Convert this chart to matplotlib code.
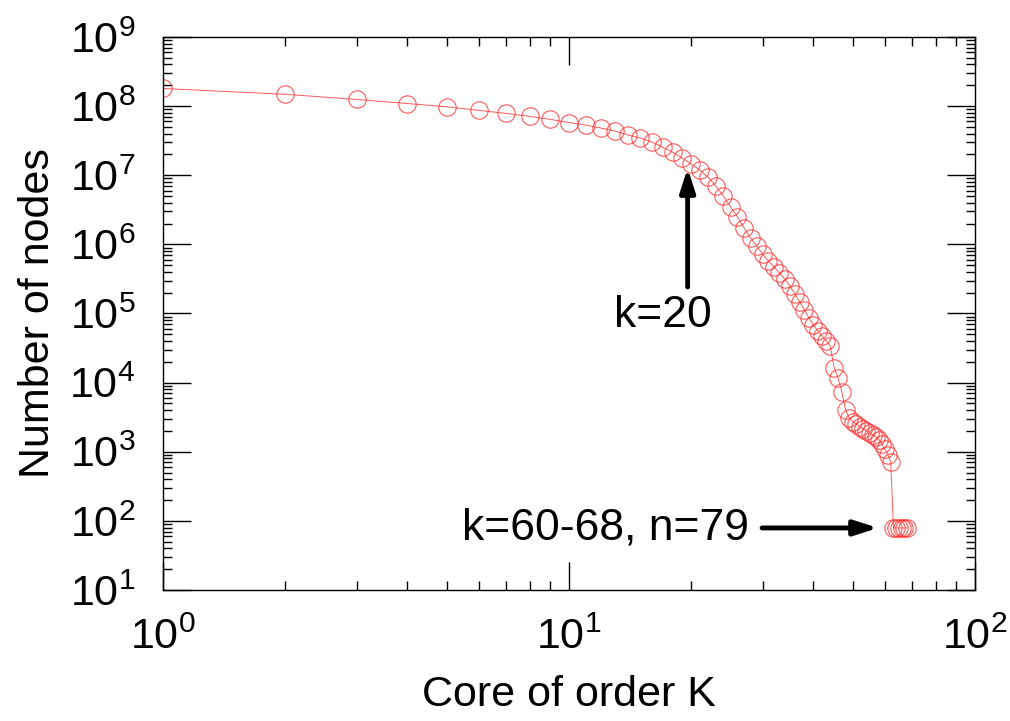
import math
import matplotlib
matplotlib.use("Agg")
import matplotlib.pyplot as plt
from matplotlib.ticker import LogLocator, FuncFormatter, NullFormatter

plt.rcParams['font.family'] = ['Liberation Sans', 'DejaVu Sans']
plt.rcParams['mathtext.fontset'] = 'custom'
plt.rcParams['mathtext.rm'] = 'Liberation Sans'
plt.rcParams['mathtext.it'] = 'Liberation Sans'

# data
core_k = list(range(1, 69))
num_nodes = [
    1.80e8, 1.48e8, 1.25e8, 1.09e8, 9.77e7, 8.67e7, 7.84e7, 7.10e7, 6.42e7, 5.78e7,
    5.31e7, 4.81e7, 4.35e7, 3.81e7, 3.45e7, 3.02e7, 2.56e7, 2.16e7, 1.77e7, 1.45e7,
    1.19e7, 9.42e6, 6.98e6, 5.01e6, 3.47e6, 2.49e6, 1.73e6, 1.24e6, 9.48e5, 7.27e5,
    5.76e5, 4.71e5, 3.86e5, 3.16e5, 2.51e5, 1.92e5, 1.47e5, 1.13e5, 8.64e4, 6.84e4,
    5.61e4, 4.75e4, 4.02e4, 3.40e4, 1.64e4, 1.17e4, 7.36e3, 4.05e3, 3.10e3, 2.71e3,
    2.54e3, 2.30e3, 2.15e3, 2.01e3, 1.88e3, 1.76e3, 1.65e3, 1.49e3, 1.30e3, 1.10e3,
    905, 717, 79, 79, 79, 79, 79, 79,
]
xlabel = "Core of order K"
ylabel = "Number of nodes"
ann1_text = "k=20"
ann2_text = "k=60-68, n=79"

fig = plt.figure(figsize=(10.10, 7.21), dpi=100)
ax = fig.add_axes([0.1614, 0.1817, 0.9653 - 0.1614, 0.9487 - 0.1817])

ax.plot(core_k, num_nodes, color='#ff3030', lw=0.7, marker='o', ms=12.5,
        mfc='none', mec='#ff3030', mew=0.8, alpha=0.8)

ax.set_xscale('log')
ax.set_yscale('log')
ax.set_xlim(1, 100)
ax.set_ylim(10, 1e9)

fmt = FuncFormatter(lambda v, p: r'$\mathregular{10^{%d}}$' % round(math.log10(v)))
ax.xaxis.set_major_locator(LogLocator(base=10, numticks=20))
ax.yaxis.set_major_locator(LogLocator(base=10, numticks=20))
ax.xaxis.set_minor_locator(LogLocator(base=10, subs=range(2, 10), numticks=20))
ax.yaxis.set_minor_locator(LogLocator(base=10, subs=range(2, 10), numticks=20))
ax.xaxis.set_major_formatter(fmt)
ax.yaxis.set_major_formatter(fmt)
ax.xaxis.set_minor_formatter(NullFormatter())
ax.yaxis.set_minor_formatter(NullFormatter())

ax.tick_params(which='both', direction='in', top=True, right=True, width=1.0, colors='black')
ax.tick_params(which='major', length=20)
ax.tick_params(which='minor', length=6.5)
ax.tick_params(axis='x', which='major', labelsize=31, pad=20)
ax.tick_params(axis='y', which='major', labelsize=31, pad=20)
for s in ax.spines.values():
    s.set_linewidth(1.0)

ax.set_xlabel(xlabel, fontsize=31, labelpad=12)
ax.set_ylabel(ylabel, fontsize=31, labelpad=8)

arrow_kw = dict(arrowstyle='-|>,head_length=1.4,head_width=0.45', color='black', lw=3.5,
                shrinkA=0, shrinkB=0)
ax.annotate('', xy=(19.6, 1.27e7), xytext=(19.6, 2.42e5), arrowprops=arrow_kw)
ax.text(17.0, 9.5e4, ann1_text, fontsize=32, ha='center', va='center')
ax.annotate('', xy=(57.7, 79), xytext=(29.9, 79), arrowprops=arrow_kw)
ax.text(12.27, 79, ann2_text, fontsize=32, ha='center', va='center')

fig.savefig('out.png', dpi=100)
